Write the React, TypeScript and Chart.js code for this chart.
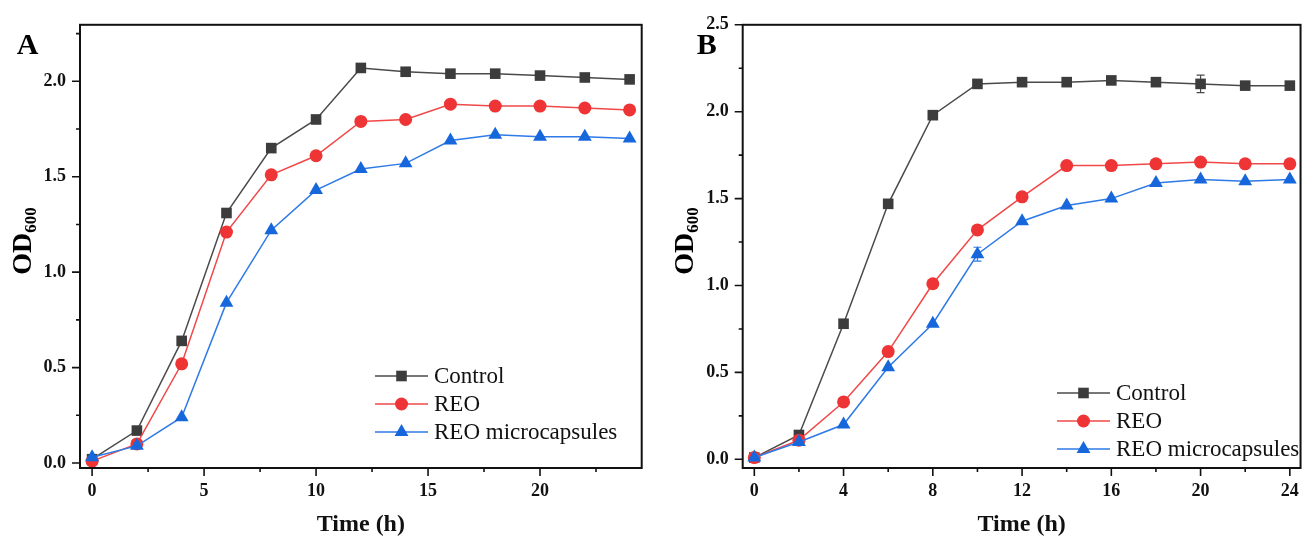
import React, { useEffect, useRef } from 'react';
import { Chart, registerables } from 'chart.js';

Chart.register(...registerables);

// Sampling times (h)
const hours = [0, 2, 4, 6, 8, 10, 12, 14, 16, 18, 20, 22, 24];

// Panel A: OD600 growth curves
const controlA = [0.02, 0.17, 0.64, 1.31, 1.65, 1.80, 2.07, 2.05, 2.04, 2.04, 2.03, 2.02, 2.01];
const reoA = [0.01, 0.10, 0.52, 1.21, 1.51, 1.61, 1.79, 1.80, 1.88, 1.87, 1.87, 1.86, 1.85];
const microA = [0.03, 0.09, 0.24, 0.84, 1.22, 1.43, 1.54, 1.57, 1.69, 1.72, 1.71, 1.71, 1.70];
const controlErrA = [0, 0, 0, 0, 0, 0, 0, 0, 0, 0, 0, 0, 0];
const reoErrA = [0, 0, 0, 0, 0, 0, 0, 0, 0, 0, 0, 0, 0];
const microErrA = [0, 0, 0, 0, 0, 0, 0, 0, 0, 0, 0, 0, 0];

// Panel B: OD600 growth curves
const controlB = [0.01, 0.14, 0.78, 1.47, 1.98, 2.16, 2.17, 2.17, 2.18, 2.17, 2.16, 2.15, 2.15];
const reoB = [0.01, 0.11, 0.33, 0.62, 1.01, 1.32, 1.51, 1.69, 1.69, 1.70, 1.71, 1.70, 1.70];
const microB = [0.01, 0.10, 0.20, 0.53, 0.78, 1.18, 1.37, 1.46, 1.50, 1.59, 1.61, 1.60, 1.61];
const controlErrB = [0, 0, 0, 0, 0.02, 0, 0, 0, 0, 0, 0.05, 0, 0];
const reoErrB = [0, 0, 0, 0, 0, 0, 0, 0, 0, 0, 0, 0, 0];
const microErrB = [0, 0, 0, 0, 0, 0.04, 0, 0, 0, 0, 0, 0, 0];

// Axis ticks
const xMajorA = [0, 5, 10, 15, 20];
const xMinorA = [2.5, 7.5, 12.5, 17.5, 22.5];
const xMajorB = [0, 4, 8, 12, 16, 20, 24];
const xMinorB = [2, 6, 10, 14, 18, 22];
const yMajorA = [0, 0.5, 1.0, 1.5, 2.0];
const yMinorA = [0.25, 0.75, 1.25, 1.75, 2.25];
const yMajorB = [0, 0.5, 1.0, 1.5, 2.0, 2.5];
const yMinorB = [0.25, 0.75, 1.25, 1.75, 2.25];

const seriesLabels = ['Control', 'REO', 'REO microcapsules'];

const SERIF = '"Liberation Serif", "Times New Roman", serif';
const H = 539;

const STYLES = [
  { line: '#4a4a4a', fill: '#3c3c3c', shape: 'rect', radius: 7.5 },
  { line: '#f04848', fill: '#ee3434', shape: 'circle', radius: 6.5 },
  { line: '#2e7ae6', fill: '#1767dc', shape: 'triangle', radius: 8 },
];

type Spec = {
  letter: string;
  left: number;
  width: number;
  area: { left: number; right: number; top: number; bottom: number };
  xMin: number;
  xMax: number;
  yMin: number;
  yMax: number;
  xMajor: number[];
  xMinor: number[];
  yMajor: number[];
  yMinor: number[];
  series: number[][];
  errors: number[][];
  legend: { x0: number; x1: number; textX: number; rows: number[] };
  letterPos: { x: number; y: number };
  yTitlePos: { x: number; y: number };
};

const specA: Spec = {
  letter: 'A',
  left: 0,
  width: 660,
  area: { left: 80, right: 641.7, top: 15, bottom: 468 },
  xMin: -0.54,
  xMax: 24.54,
  yMin: -0.026,
  yMax: 2.296,
  xMajor: xMajorA,
  xMinor: xMinorA,
  yMajor: yMajorA,
  yMinor: yMinorA,
  series: [controlA, reoA, microA],
  errors: [controlErrA, reoErrA, microErrA],
  legend: { x0: 375, x1: 428, textX: 434, rows: [376, 404, 432] },
  letterPos: { x: 27.5, y: 45.5 },
  yTitlePos: { x: 23, y: 241 },
};

const specB: Spec = {
  letter: 'B',
  left: 660,
  width: 652,
  area: { left: 82.7, right: 643.3, top: 14, bottom: 468 },
  xMin: -0.52,
  xMax: 24.48,
  yMin: -0.05,
  yMax: 2.5,
  xMajor: xMajorB,
  xMinor: xMinorB,
  yMajor: yMajorB,
  yMinor: yMinorB,
  series: [controlB, reoB, microB],
  errors: [controlErrB, reoErrB, microErrB],
  legend: { x0: 397, x1: 450, textX: 456, rows: [393, 421, 449] },
  letterPos: { x: 46.7, y: 45 },
  yTitlePos: { x: 25, y: 241 },
};

function drawMarker(ctx: CanvasRenderingContext2D, shape: string, x: number, y: number, r: number, color: string) {
  ctx.fillStyle = color;
  ctx.beginPath();
  if (shape === 'rect') {
    const s = Math.SQRT1_2 * r;
    ctx.rect(x - s, y - s, 2 * s, 2 * s);
  } else if (shape === 'circle') {
    ctx.arc(x, y, r, 0, Math.PI * 2);
  } else {
    const hw = (Math.sqrt(3) / 2) * r;
    ctx.moveTo(x, y - r);
    ctx.lineTo(x + hw, y + r / 2);
    ctx.lineTo(x - hw, y + r / 2);
    ctx.closePath();
  }
  ctx.fill();
}

function makePlugin(spec: Spec) {
  return {
    id: 'panelDecor',
    beforeDatasetsDraw(chart: any) {
      // error bars
      const { ctx, scales } = chart;
      const xs = scales.x;
      const ys = scales.y;
      ctx.save();
      ctx.lineWidth = 1.2;
      spec.errors.forEach((errs, si) => {
        ctx.strokeStyle = STYLES[si].line;
        errs.forEach((e, i) => {
          if (!e) return;
          const v = spec.series[si][i];
          const px = xs.getPixelForValue(hours[i]);
          const y0 = ys.getPixelForValue(v - e);
          const y1 = ys.getPixelForValue(v + e);
          ctx.beginPath();
          ctx.moveTo(px, y0);
          ctx.lineTo(px, y1);
          ctx.moveTo(px - 4, y0);
          ctx.lineTo(px + 4, y0);
          ctx.moveTo(px - 4, y1);
          ctx.lineTo(px + 4, y1);
          ctx.stroke();
        });
      });
      ctx.restore();
    },
    afterDraw(chart: any) {
      const { ctx, chartArea: a, scales } = chart;
      const xs = scales.x;
      const ys = scales.y;
      ctx.save();

      // frame
      ctx.strokeStyle = '#111';
      ctx.lineWidth = 2;
      ctx.strokeRect(a.left, a.top, a.right - a.left, a.bottom - a.top);

      // outward tick marks
      ctx.lineWidth = 1.6;
      ctx.beginPath();
      spec.xMajor.forEach((v) => {
        const p = xs.getPixelForValue(v);
        ctx.moveTo(p, a.bottom);
        ctx.lineTo(p, a.bottom + 8);
      });
      spec.xMinor.forEach((v) => {
        const p = xs.getPixelForValue(v);
        ctx.moveTo(p, a.bottom);
        ctx.lineTo(p, a.bottom + 4);
      });
      spec.yMajor.forEach((v) => {
        const p = ys.getPixelForValue(v);
        ctx.moveTo(a.left, p);
        ctx.lineTo(a.left - 8, p);
      });
      spec.yMinor.forEach((v) => {
        const p = ys.getPixelForValue(v);
        ctx.moveTo(a.left, p);
        ctx.lineTo(a.left - 4, p);
      });
      ctx.stroke();

      // legend
      const L = spec.legend;
      seriesLabels.forEach((label, i) => {
        const st = STYLES[i];
        const yy = L.rows[i];
        ctx.strokeStyle = st.line;
        ctx.lineWidth = 1.5;
        ctx.beginPath();
        ctx.moveTo(L.x0, yy);
        ctx.lineTo(L.x1, yy);
        ctx.stroke();
        drawMarker(ctx, st.shape, (L.x0 + L.x1) / 2, yy, st.radius, st.fill);
        ctx.fillStyle = '#111';
        ctx.font = `23px ${SERIF}`;
        ctx.textAlign = 'left';
        ctx.textBaseline = 'middle';
        ctx.fillText(label, L.textX, yy + 1);
      });

      // panel letter
      ctx.fillStyle = '#000';
      ctx.font = `bold 30px ${SERIF}`;
      ctx.textAlign = 'center';
      ctx.textBaseline = 'middle';
      ctx.fillText(spec.letter, spec.letterPos.x, spec.letterPos.y + 1);

      // y-axis title with subscript
      ctx.translate(spec.yTitlePos.x, spec.yTitlePos.y);
      ctx.rotate(-Math.PI / 2);
      ctx.textAlign = 'left';
      ctx.textBaseline = 'alphabetic';
      const mainFont = `bold 28px ${SERIF}`;
      const subFont = `bold 17px ${SERIF}`;
      ctx.font = mainFont;
      const wMain = ctx.measureText('OD').width;
      ctx.font = subFont;
      const wSub = ctx.measureText('600').width;
      const start = -(wMain + wSub) / 2;
      ctx.font = mainFont;
      ctx.fillText('OD', start, 8);
      ctx.font = subFont;
      ctx.fillText('600', start + wMain, 13);

      ctx.restore();
    },
  };
}

function buildConfig(spec: Spec): any {
  const datasets = spec.series.map((vals, i) => ({
    label: seriesLabels[i],
    data: vals.map((v, j) => ({ x: hours[j], y: v })),
    borderColor: STYLES[i].line,
    backgroundColor: STYLES[i].fill,
    pointBackgroundColor: STYLES[i].fill,
    pointBorderColor: STYLES[i].fill,
    pointBorderWidth: 0,
    pointStyle: STYLES[i].shape,
    pointRadius: STYLES[i].radius,
    borderWidth: 1.5,
    tension: 0,
    clip: false,
    order: 2 - i,
  }));

  const tickFont = { family: SERIF, weight: 'bold', size: 18 };
  const area = spec.area;

  return {
    type: 'line',
    data: { datasets },
    options: {
      animation: false,
      responsive: false,
      devicePixelRatio: 1,
      layout: {
        padding: {
          left: 0,
          top: area.top,
          right: spec.width - area.right,
          bottom: 0,
        },
      },
      plugins: {
        legend: { display: false },
        tooltip: { enabled: false },
      },
      scales: {
        x: {
          type: 'linear',
          min: spec.xMin,
          max: spec.xMax,
          grid: { display: true, drawOnChartArea: false, drawTicks: false },
          border: { display: false },
          afterBuildTicks: (scale: any) => {
            scale.ticks = spec.xMajor.map((v) => ({ value: v }));
          },
          afterFit: (scale: any) => {
            scale.height = H - area.bottom;
          },
          ticks: {
            font: tickFont,
            color: '#111',
            padding: 13,
            maxRotation: 0,
            autoSkip: false,
            callback: (v: any) => String(v),
          },
          title: {
            display: true,
            text: 'Time (h)',
            color: '#111',
            font: { family: SERIF, weight: 'bold', size: 24 },
            padding: { top: 0, bottom: 0 },
          },
        },
        y: {
          type: 'linear',
          min: spec.yMin,
          max: spec.yMax,
          grid: { display: true, drawOnChartArea: false, drawTicks: false },
          border: { display: false },
          afterBuildTicks: (scale: any) => {
            scale.ticks = spec.yMajor.map((v) => ({ value: v }));
          },
          afterFit: (scale: any) => {
            scale.width = area.left;
          },
          ticks: {
            font: tickFont,
            color: '#111',
            padding: 14,
            autoSkip: false,
            callback: (v: any) => Number(v).toFixed(1),
          },
        },
      },
    },
    plugins: [makePlugin(spec)],
  };
}

function Panel({ spec }: { spec: Spec }) {
  const ref = useRef<HTMLCanvasElement>(null);
  useEffect(() => {
    if (!ref.current) return;
    const chart = new Chart(ref.current, buildConfig(spec));
    return () => chart.destroy();
  }, [spec]);
  return (
    <canvas
      ref={ref}
      width={spec.width}
      height={H}
      style={{ position: 'absolute', left: spec.left, top: 0, width: spec.width, height: H }}
    />
  );
}

export default function App() {
  return (
    <div
      style={{
        position: 'fixed',
        left: 0,
        top: 0,
        width: 1312,
        height: H,
        background: '#ffffff',
        overflow: 'hidden',
      }}
    >
      <Panel spec={specA} />
      <Panel spec={specB} />
    </div>
  );
}
